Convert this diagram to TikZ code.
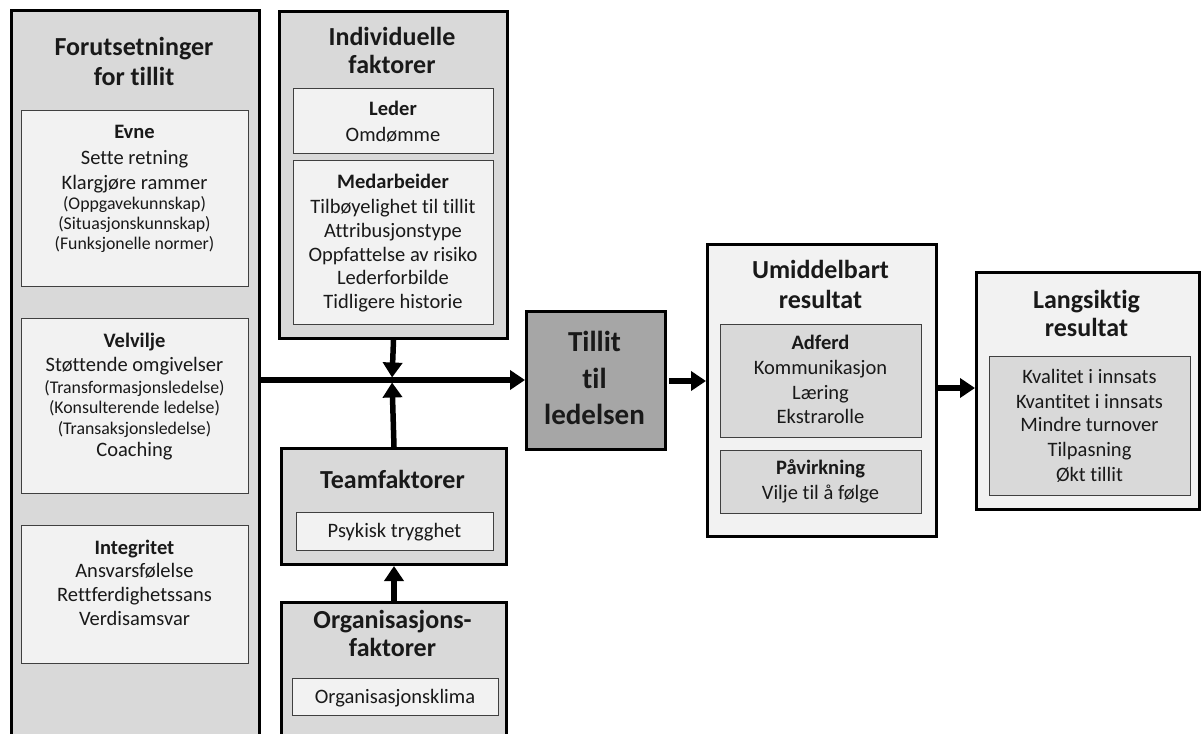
\documentclass[tikz,border=0pt]{standalone}
\usepackage{fontspec}
\setmainfont{Carlito}[Ligatures=NoCommon]
\usetikzlibrary{arrows.meta}
\definecolor{gA}{HTML}{D9D9D9}
\definecolor{gB}{HTML}{F2F2F2}
\definecolor{gC}{HTML}{A6A6A6}
\definecolor{ln}{HTML}{404040}
\tikzset{
  box/.style={draw=black, line width=3pt, inner sep=0pt, anchor=north west},
  subbox/.style={draw=ln, line width=1.2pt, inner sep=0pt, anchor=north west},
  lbl/.style={inner sep=0pt, text height=1.2em, text depth=0em, text=black!90},
  ttl/.style={lbl, font=\fontsize{26}{30}\selectfont\bfseries},
  big/.style={lbl, font=\fontsize{29}{34}\selectfont\bfseries},
  hd/.style={lbl, font=\fontsize{20.5}{24}\selectfont\bfseries},
  tx/.style={lbl, font=\fontsize{20.5}{24}\selectfont},
  sm/.style={lbl, font=\fontsize{17.8}{20}\selectfont},
  arr/.style={line width=5.5pt, -{Triangle[length=15pt,width=19pt]}},
}
\begin{document}
\begin{tikzpicture}[x=1pt,y=-1pt]
\useasboundingbox (0,0) rectangle (1201,733);
% left column
\node[box, fill=gA, minimum width=248pt, minimum height=727pt] (L) at (10,9) {};
\node[ttl] (Lt1) at (134,50) {Forutsetninger};
\node[ttl] (Lt2) at (134,80) {for tillit};
\node[subbox, fill=gB, minimum width=227pt, minimum height=176pt] (Ev) at (21,110) {};
\node[hd] (Ev1) at (134.5,133) {Evne};
\node[tx] (Ev2) at (134.5,158) {Sette retning};
\node[tx] (Ev3) at (134.5,183) {Klargjøre rammer};
\node[sm] (Ev4) at (134.5,203) {(Oppgavekunnskap)};
\node[sm] (Ev5) at (134.5,223) {(Situasjonskunnskap)};
\node[sm] (Ev6) at (134.5,243) {(Funksjonelle normer)};
\node[subbox, fill=gB, minimum width=227pt, minimum height=175pt] (Ve) at (21,318) {};
\node[hd] (Ve1) at (134.5,341) {Velvilje};
\node[tx] (Ve2) at (134.5,365) {Støttende omgivelser};
\node[sm] (Ve3) at (134.5,387) {(Transformasjonsledelse)};
\node[sm] (Ve4) at (134.5,407) {(Konsulterende ledelse)};
\node[sm] (Ve5) at (134.5,428) {(Transaksjonsledelse)};
\node[tx] (Ve6) at (134.5,450) {Coaching};
\node[subbox, fill=gB, minimum width=227pt, minimum height=138pt] (In) at (21,525) {};
\node[hd] (In1) at (134.5,548) {Integritet};
\node[tx] (In2) at (134.5,571) {Ansvarsfølelse};
\node[tx] (In3) at (134.5,595) {Rettferdighetssans};
\node[tx] (In4) at (134.5,619) {Verdisamsvar};
% individuelle faktorer
\node[box, fill=gA, minimum width=228pt, minimum height=327pt] (I) at (278,10) {};
\node[ttl] (It1) at (392,40) {Individuelle};
\node[ttl] (It2) at (392,68) {faktorer};
\node[subbox, fill=gB, minimum width=200pt, minimum height=65pt] (Le) at (293,88) {};
\node[hd] (Le1) at (393,110) {Leder};
\node[tx] (Le2) at (393,135) {Omdømme};
\node[subbox, fill=gB, minimum width=200pt, minimum height=164pt] (Me) at (293,160) {};
\node[hd] (Me1) at (393,182) {Medarbeider};
\node[tx] (Me2) at (393,207) {Tilbøyelighet til tillit};
\node[tx] (Me3) at (393,231) {Attribusjonstype};
\node[tx] (Me4) at (393,255) {Oppfattelse av risiko};
\node[tx] (Me5) at (393,278) {Lederforbilde};
\node[tx] (Me6) at (393,302) {Tidligere historie};
% teamfaktorer
\node[box, fill=gA, minimum width=225pt, minimum height=116pt] (T) at (280,447) {};
\node[ttl] (Tt) at (392.5,482) {Teamfaktorer};
\node[subbox, fill=gB, minimum width=197pt, minimum height=38pt] (Ps) at (296,512) {};
\node[tx] (Ps1) at (394.5,531) {Psykisk trygghet};
% organisasjonsfaktorer
\node[box, fill=gA, minimum width=225pt, minimum height=135pt] (O) at (280,601) {};
\node[ttl] (Ot1) at (392.5,622) {Organisasjons-};
\node[ttl] (Ot2) at (392.5,650) {faktorer};
\node[subbox, fill=gB, minimum width=206pt, minimum height=37pt] (Ok) at (292,678) {};
\node[tx] (Ok1) at (395,697) {Organisasjonsklima};
% tillit
\node[box, fill=gC, minimum width=139pt, minimum height=138pt] (Tl) at (525,310) {};
\node[big] (Tl1) at (594.5,345) {Tillit};
\node[big] (Tl2) at (594.5,382) {til};
\node[big] (Tl3) at (594.5,418) {ledelsen};
% umiddelbart resultat
\node[box, fill=gB, minimum width=229pt, minimum height=292pt] (U) at (706,243) {};
\node[ttl] (Ut1) at (820.5,272) {Umiddelbart};
\node[ttl] (Ut2) at (820.5,302) {resultat};
\node[subbox, fill=gA, minimum width=201pt, minimum height=113pt] (Ad) at (720,324) {};
\node[hd] (Ad1) at (820.5,343) {Adferd};
\node[tx] (Ad2) at (820.5,368) {Kommunikasjon};
\node[tx] (Ad3) at (820.5,393) {Læring};
\node[tx] (Ad4) at (820.5,417) {Ekstrarolle};
\node[subbox, fill=gA, minimum width=201pt, minimum height=63pt] (Pa) at (720,450) {};
\node[hd] (Pa1) at (820.5,468) {Påvirkning};
\node[tx] (Pa2) at (820.5,493) {Vilje til å følge};
% langsiktig resultat
\node[box, fill=gB, minimum width=223pt, minimum height=237pt] (Lg) at (975,271) {};
\node[ttl] (Lgt1) at (1086.5,302) {Langsiktig};
\node[ttl] (Lgt2) at (1086.5,330) {resultat};
\node[subbox, fill=gA, minimum width=201pt, minimum height=139pt] (Lk) at (989,356) {};
\node[tx] (Lk1) at (1089.5,377) {Kvalitet i innsats};
\node[tx] (Lk2) at (1089.5,402) {Kvantitet i innsats};
\node[tx] (Lk3) at (1089.5,425) {Mindre turnover};
\node[tx] (Lk4) at (1089.5,450) {Tilpasning};
\node[tx] (Lk5) at (1089.5,475) {Økt tillit};
% connectors
\coordinate (J) at (392,380);
\draw[arr] (L.east |- J) -- (Tl.west |- J);
\draw[arr, shorten >=2.5pt] (I.south) -- (J);
\draw[arr, shorten >=2.5pt] (T.north) -- (J);
\draw[arr] (O.north) -- (T.south);
\draw[arr, shorten <=2pt] (Tl.east |- 0,381) -- (U.west |- 0,381);
\draw[arr] (U.east |- 0,388) -- (Lg.west |- 0,388);
\end{tikzpicture}
\end{document}
